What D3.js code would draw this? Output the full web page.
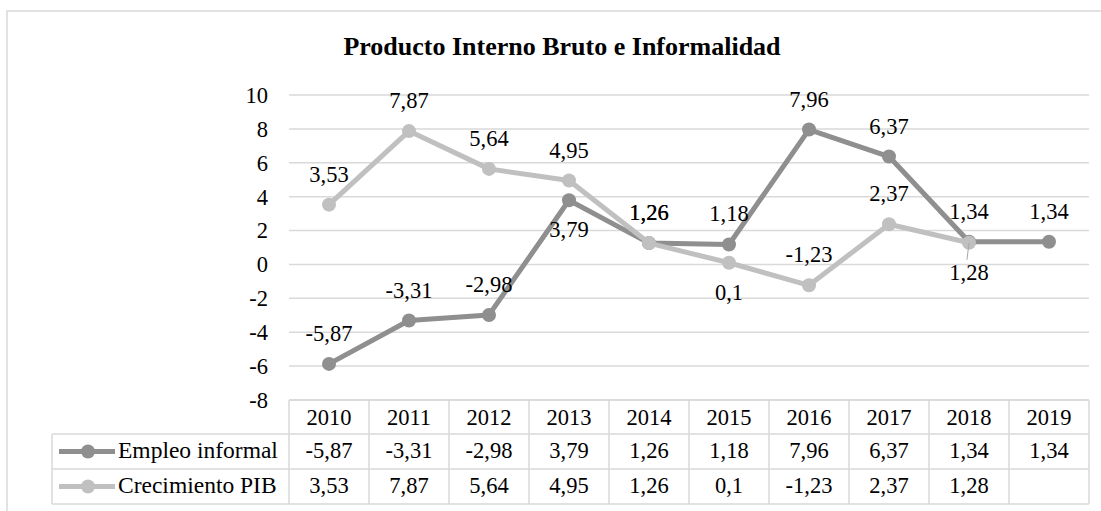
<!DOCTYPE html>
<html>
<head>
<meta charset="utf-8">
<script src="https://cdn.jsdelivr.net/npm/d3@7.9.0/dist/d3.min.js"></script>
<style>
  body { margin: 0; background: #fff; }
  svg text { font-family: "Liberation Serif", "Times New Roman", serif; fill: #000; }
</style>
</head>
<body>
<svg width="1101" height="511"></svg>
<script>
const title = 'Producto Interno Bruto e Informalidad';
const years = ['2010', '2011', '2012', '2013', '2014', '2015', '2016', '2017', '2018', '2019'];
const empleo = [-5.87, -3.31, -2.98, 3.79, 1.26, 1.18, 7.96, 6.37, 1.34, 1.34];
const pib = [3.53, 7.87, 5.64, 4.95, 1.26, 0.1, -1.23, 2.37, 1.28, null];
// where each data label sits: a = above, b = below
const empleoPos = ['a', 'a', 'a', 'b', 'a', 'a', 'a', 'a', 'a', 'a'];
const pibPos = ['a', 'a', 'a', 'a', 'a', 'b', 'a', 'a', 'b', 'a'];
const yTicks = [-8, -6, -4, -2, 0, 2, 4, 6, 8, 10];
const seriesNames = ['Empleo informal', 'Crecimiento PIB'];
const seriesColors = ['#8f8f8f', '#c0c0c0'];

const fmt = v => v == null ? '' : String(v).replace('.', ',');
const grid = '#d9d9d9';
const fs = 22.5;

const svg = d3.select('svg');

// chart frame
svg.append('path')
  .attr('d', 'M7,520 V11 H1110')
  .attr('fill', 'none').attr('stroke', grid).attr('stroke-width', 1.5);

svg.append('text')
  .attr('x', 562).attr('y', 55)
  .attr('text-anchor', 'middle')
  .attr('font-size', 26).attr('font-weight', 'bold')
  .text(title);

const x = d3.scaleBand().domain(years).range([289, 1089]);
const y = d3.scaleLinear().domain([-8, 10]).range([400, 95]);
const cx = d => x(d) + x.bandwidth() / 2;

// gridlines
svg.append('g').selectAll('line').data(yTicks).join('line')
  .attr('x1', 289).attr('x2', 1089)
  .attr('y1', d => y(d)).attr('y2', d => y(d))
  .attr('stroke', grid).attr('stroke-width', 1.5);

// y axis labels
svg.append('g').selectAll('text').data(yTicks).join('text')
  .attr('x', 268).attr('y', d => y(d))
  .attr('dy', '0.35em')
  .attr('text-anchor', 'end')
  .attr('font-size', fs)
  .text(d => d);

const series = [
  { name: seriesNames[0], values: empleo, pos: empleoPos, color: seriesColors[0] },
  { name: seriesNames[1], values: pib, pos: pibPos, color: seriesColors[1] }
];

const line = d3.line()
  .defined(d => d.v != null)
  .x(d => cx(d.year))
  .y(d => y(d.v));

series.forEach(s => {
  const pts = years.map((yr, i) => ({ year: yr, v: s.values[i], pos: s.pos[i] }));
  const g = svg.append('g');
  g.append('path')
    .attr('d', line(pts))
    .attr('fill', 'none')
    .attr('stroke', s.color)
    .attr('stroke-width', 5)
    .attr('stroke-linejoin', 'round');
  g.selectAll('circle').data(pts.filter(d => d.v != null)).join('circle')
    .attr('cx', d => cx(d.year))
    .attr('cy', d => y(d.v))
    .attr('r', 7)
    .attr('fill', s.color);
  s.pts = pts;
});

// leader line for 2018 PIB label
svg.append('line')
  .attr('x1', cx('2018')).attr('y1', y(pib[8]))
  .attr('x2', cx('2018') - 2).attr('y2', y(pib[8]) + 17)
  .attr('stroke', '#a6a6a6').attr('stroke-width', 1);

// data labels
series.forEach(s => {
  svg.append('g').selectAll('text').data(s.pts.filter(d => d.v != null)).join('text')
    .attr('x', d => cx(d.year))
    .attr('y', d => d.pos === 'a' ? y(d.v) - 23 : y(d.v) + 37)
    .attr('text-anchor', 'middle')
    .attr('font-size', fs)
    .text(d => fmt(d.v));
});

// data table
const rowsY = [400, 434, 469, 504];
const tableLeft = 52;
const tg = svg.append('g').attr('stroke', grid).attr('stroke-width', 1.5);
tg.append('line').attr('x1', 289).attr('x2', 1089).attr('y1', rowsY[0]).attr('y2', rowsY[0]);
[1, 2, 3].forEach(i => {
  tg.append('line').attr('x1', tableLeft).attr('x2', 1089).attr('y1', rowsY[i]).attr('y2', rowsY[i]);
});
tg.append('line').attr('x1', tableLeft).attr('x2', tableLeft).attr('y1', rowsY[1]).attr('y2', rowsY[3]);
years.forEach(yr => {
  tg.append('line').attr('x1', x(yr)).attr('x2', x(yr)).attr('y1', rowsY[0]).attr('y2', rowsY[3]);
});
tg.append('line').attr('x1', 1089).attr('x2', 1089).attr('y1', rowsY[0]).attr('y2', rowsY[3]);

// header years
svg.append('g').selectAll('text').data(years).join('text')
  .attr('x', d => cx(d)).attr('y', 425)
  .attr('text-anchor', 'middle').attr('font-size', fs)
  .text(d => d);

const rowBase = [458, 493];
series.forEach((s, i) => {
  const ly = (rowsY[i + 1] + rowsY[i + 2]) / 2;
  svg.append('line')
    .attr('x1', 59).attr('x2', 115).attr('y1', ly).attr('y2', ly)
    .attr('stroke', s.color).attr('stroke-width', 5);
  svg.append('circle').attr('cx', 88).attr('cy', ly).attr('r', 7).attr('fill', s.color);
  svg.append('text')
    .attr('x', 118).attr('y', rowBase[i])
    .attr('font-size', 23.5)
    .text(s.name);
  svg.append('g').selectAll('text').data(s.pts).join('text')
    .attr('x', d => cx(d.year)).attr('y', rowBase[i])
    .attr('text-anchor', 'middle').attr('font-size', fs)
    .text(d => fmt(d.v));
});
</script>
</body>
</html>
